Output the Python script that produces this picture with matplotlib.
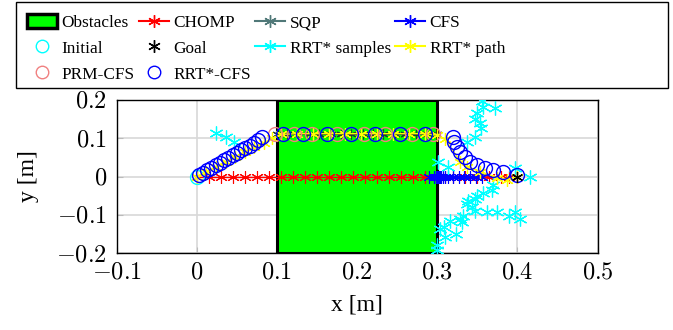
import matplotlib
matplotlib.use("Agg")
import matplotlib.pyplot as plt
from matplotlib.lines import Line2D
from matplotlib.patches import Rectangle

plt.rcParams['mathtext.fontset'] = 'cm'
plt.rcParams['font.family'] = ['Liberation Serif', 'DejaVu Serif']

# ---------------- data ----------------
obstacle_x = [0.1, 0.3]
obstacle_y = [-0.2, 0.2]

initial_x = [0.0]
initial_y = [0.0]
goal_x = [0.4]
goal_y = [0.0]

chomp_x = [0.000, 0.015, 0.030, 0.045, 0.060, 0.075, 0.090, 0.105, 0.120, 0.135,
           0.150, 0.165, 0.180, 0.195, 0.210, 0.225, 0.240, 0.255, 0.270, 0.285,
           0.300, 0.310, 0.320, 0.335, 0.350, 0.365, 0.380, 0.390, 0.400]
chomp_y = [0.0] * len(chomp_x)

sqp_x = [0.100, 0.113, 0.127, 0.140, 0.153, 0.167, 0.180, 0.193, 0.207, 0.220,
         0.233, 0.247, 0.260, 0.273, 0.287, 0.300]
sqp_y = [0.112] * len(sqp_x)

cfs_x = [0.290, 0.296, 0.298, 0.299, 0.300, 0.301, 0.302, 0.303, 0.305, 0.307,
         0.310, 0.314, 0.320, 0.327, 0.334, 0.341, 0.348, 0.356]
cfs_y = [0.0] * len(cfs_x)

samples_x = [0.024, 0.036, 0.046, 0.356, 0.357, 0.372, 0.350, 0.347, 0.354, 0.355,
             0.347, 0.337, 0.301, 0.314, 0.397, 0.416, 0.370, 0.369, 0.357, 0.350,
             0.347, 0.339, 0.337, 0.344, 0.347, 0.332, 0.329, 0.331, 0.362, 0.375,
             0.389, 0.397, 0.403, 0.316, 0.308, 0.304, 0.310, 0.323, 0.300, 0.300]
samples_y = [0.115, 0.104, 0.091, 0.198, 0.183, 0.178, 0.167, 0.151, 0.141, 0.128,
             0.102, 0.089, 0.037, 0.026, 0.021, 0.000, -0.021, -0.034, -0.042, -0.052,
             -0.060, -0.065, -0.073, -0.081, -0.091, -0.104, -0.112, -0.120, -0.094, -0.094,
             -0.104, -0.094, -0.112, -0.117, -0.131, -0.138, -0.159, -0.151, -0.178, -0.191]

rrt_path_x = [0.000, 0.012, 0.024, 0.036, 0.048, 0.060, 0.072, 0.084, 0.094, 0.105,
              0.125, 0.145, 0.165, 0.185, 0.205, 0.225, 0.245, 0.265, 0.285, 0.300,
              0.310, 0.329, 0.337, 0.354, 0.375, 0.387, 0.400]
rrt_path_y = [0.000, 0.013, 0.026, 0.039, 0.052, 0.065, 0.078, 0.088, 0.100, 0.110,
              0.112, 0.112, 0.112, 0.112, 0.112, 0.112, 0.112, 0.112, 0.112, 0.108,
              0.097, 0.039, 0.026, 0.013, -0.003, -0.008, 0.000]

prm_x = [0.098, 0.121, 0.144, 0.175, 0.209, 0.235, 0.268, 0.295]
prm_y = [0.112, 0.112, 0.112, 0.112, 0.112, 0.112, 0.112, 0.112]

rrtcfs_x = [0.003, 0.008, 0.013, 0.018, 0.024, 0.029, 0.034, 0.039, 0.045, 0.050,
            0.055, 0.060, 0.066, 0.071, 0.076, 0.082,
            0.108, 0.133, 0.163, 0.192, 0.222, 0.254, 0.285,
            0.320, 0.321, 0.325, 0.329, 0.335, 0.341, 0.350, 0.360, 0.370, 0.382, 0.400]
rrtcfs_y = [0.004, 0.010, 0.016, 0.022, 0.029, 0.035, 0.042, 0.048, 0.055, 0.061,
            0.068, 0.074, 0.081, 0.088, 0.095, 0.102,
            0.112, 0.112, 0.112, 0.112, 0.112, 0.112, 0.112,
            0.104, 0.089, 0.076, 0.063, 0.050, 0.039, 0.031, 0.023, 0.018, 0.013, 0.003]

xticks = [-0.1, 0.0, 0.1, 0.2, 0.3, 0.4, 0.5]
xtick_labels = ['$-0.1$', '$0$', '$0.1$', '$0.2$', '$0.3$', '$0.4$', '$0.5$']
yticks = [-0.2, -0.1, 0.0, 0.1, 0.2]
ytick_labels = ['$-0.2$', '$-0.1$', '$0$', '$0.1$', '$0.2$']

legend_labels = ['Obstacles', 'Initial', 'PRM-CFS', 'CHOMP', 'Goal', 'RRT*-CFS',
                 'SQP', 'RRT* samples', 'CFS', 'RRT* path']

# ---------------- figure ----------------
W, H = 673, 330
fig = plt.figure(figsize=(W / 100, H / 100), dpi=100)
ax = fig.add_axes([116.5 / W, 1 - 253 / H, 481 / W, 153 / H])
ax.set_xlim(-0.1, 0.5)
ax.set_ylim(-0.2, 0.2)

ax.set_axisbelow(True)
ax.grid(True, color='#d8d8d8', lw=1.2)

ast = (6, 2, 0)
green = '#00ff00'

obs = Rectangle((obstacle_x[0], obstacle_y[0]), obstacle_x[1] - obstacle_x[0],
                obstacle_y[1] - obstacle_y[0], facecolor=green,
                edgecolor='black', lw=2.2, zorder=1.5)
ax.add_patch(obs)

ax.plot(chomp_x, chomp_y, color='red', lw=1.0, marker=ast, ms=9, mew=0.8, zorder=3)
ax.plot(sqp_x, sqp_y, color='#203838', lw=1.5, marker=ast, ms=7, mew=0.8, zorder=3)
ax.plot(cfs_x, cfs_y, color='blue', lw=1.0, marker=ast, ms=9, mew=0.8, zorder=3.1)
ax.plot(samples_x, samples_y, ls='none', color='cyan', marker=ast, ms=10, mew=0.9, zorder=3.2)
ax.plot(rrt_path_x, rrt_path_y, color='yellow', lw=1.0, marker=ast, ms=9, mew=0.9, zorder=3.3)
ax.plot(initial_x, initial_y, ls='none', marker='o', ms=10, mfc='none', mec='cyan', mew=1.0, zorder=3.25)
ax.plot(prm_x, prm_y, ls='none', marker='o', ms=10, mfc='none', mec='#f08080', mew=1.0, zorder=3.4)
ax.plot(rrtcfs_x, rrtcfs_y, ls='none', marker='o', ms=10, mfc='none', mec='blue', mew=1.0, zorder=3.5)
ax.plot(goal_x, goal_y, ls='none', marker=ast, ms=8, color='black', mew=0.9, zorder=3.7)

ax.set_xticks(xticks)
ax.set_xticklabels(xtick_labels)
ax.set_yticks(yticks)
ax.set_yticklabels(ytick_labels)
ax.tick_params(direction='in', length=4, width=0.8, labelsize=17.5, pad=7,
               color='#bbbbbb', top=False, right=False)
for s in ax.spines.values():
    s.set_linewidth(1.0)

ax.set_xlabel('x [m]', fontsize=17, labelpad=8)
ax.set_ylabel('y [m]', fontsize=17, labelpad=12)

# ---------------- legend ----------------
h_obs = Rectangle((0, 0), 1, 1, facecolor=green, edgecolor='black', lw=2.5)
h_init = Line2D([], [], ls='none', marker='o', ms=9, mfc='none', mec='cyan')
h_prm = Line2D([], [], ls='none', marker='o', ms=9, mfc='none', mec='#f08080')
h_chomp = Line2D([], [], color='red', marker=ast, ms=9)
h_goal = Line2D([], [], ls='none', color='black', marker=ast, ms=9)
h_rrtcfs = Line2D([], [], ls='none', marker='o', ms=9, mfc='none', mec='blue')
h_sqp = Line2D([], [], color='#507878', marker=ast, ms=9)
h_samp = Line2D([], [], color='cyan', marker=ast, ms=9)
h_cfs = Line2D([], [], color='blue', marker=ast, ms=9)
h_path = Line2D([], [], color='yellow', marker=ast, ms=9)

handles = [h_obs, h_init, h_prm, h_chomp, h_goal, h_rrtcfs, h_sqp, h_samp, h_cfs, h_path]

# legend frame (wider than its content, as in the reference)
frame = Rectangle((16 / W, 1 - 88 / H), (668 - 16) / W, 86 / H,
                  transform=fig.transFigure, facecolor='white',
                  edgecolor='black', lw=1.0, zorder=0)
fig.patches.append(frame)

leg = fig.legend(handles, legend_labels, ncol=4, loc='upper left',
                 bbox_to_anchor=(15 / W, 1 - 2 / H), fontsize=12.4,
                 frameon=False,
                 handlelength=1.75, handleheight=0.9, handletextpad=0.25,
                 columnspacing=0.25, labelspacing=0.5, borderpad=0.2)

fig.savefig('out.png', dpi=100)
